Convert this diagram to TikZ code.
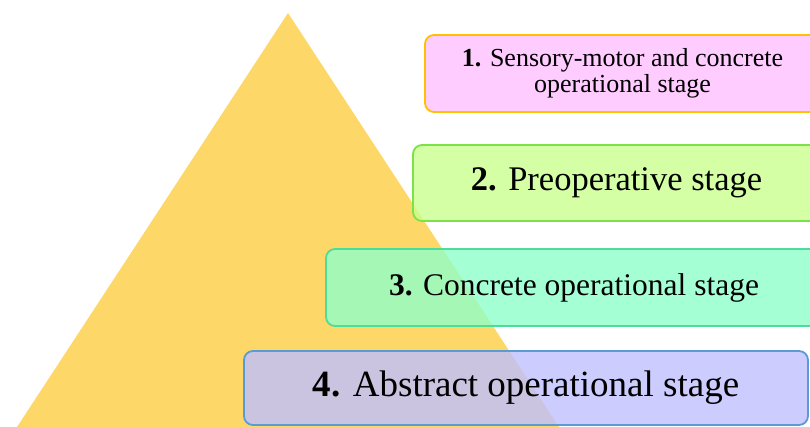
\documentclass[tikz,border=0pt]{standalone}
\usepackage{fontspec}
\setmainfont{Liberation Serif}
\definecolor{triyellow}{RGB}{253,216,104}
\definecolor{pinkfill}{RGB}{255,191,255}
\definecolor{pinkline}{RGB}{255,192,0}
\definecolor{greenfill}{RGB}{201,255,143}
\definecolor{greenline}{RGB}{125,226,74}
\definecolor{mintfill}{RGB}{143,255,201}
\definecolor{mintline}{RGB}{77,220,154}
\definecolor{bluefill}{RGB}{191,191,255}
\definecolor{blueline}{RGB}{91,155,213}
\tikzset{
  stagebox/.style={rectangle, rounded corners=9pt, line width=1.8pt, fill opacity=0.8, text opacity=1, draw opacity=1, align=center, inner sep=0pt},
}
\begin{document}
\begin{tikzpicture}[x=1pt,y=-1pt]
\useasboundingbox (0,0) rectangle (810,427);
\clip (0,0) rectangle (810,427);
\fill[triyellow] (288,13) -- (17,427) -- (559,427) -- cycle;
\node[stagebox, fill=pinkfill, draw=pinkline, minimum width=395pt, minimum height=77pt,
  font=\fontsize{26}{25.5}\selectfont] (s1) at (622.5,73.5)
  {\textbf{1.} Sensory-motor and concrete\\operational stage};
\node[stagebox, fill=greenfill, draw=greenline, minimum width=407pt, minimum height=76pt,
  font=\fontsize{34.5}{40}\selectfont] (s2) at (616.5,183)
  {\textbf{2.} Preoperative stage};
\node[stagebox, fill=mintfill, draw=mintline, minimum width=496pt, minimum height=77pt,
  font=\fontsize{31.5}{36}\selectfont] (s3) at (574,287.5)
  {\textbf{3.} Concrete operational stage};
\node[stagebox, fill=bluefill, draw=blueline, minimum width=564pt, minimum height=74pt,
  font=\fontsize{37}{44}\selectfont] (s4) at (526,388)
  {\textbf{4.} Abstract operational stage};
\end{tikzpicture}
\end{document}
